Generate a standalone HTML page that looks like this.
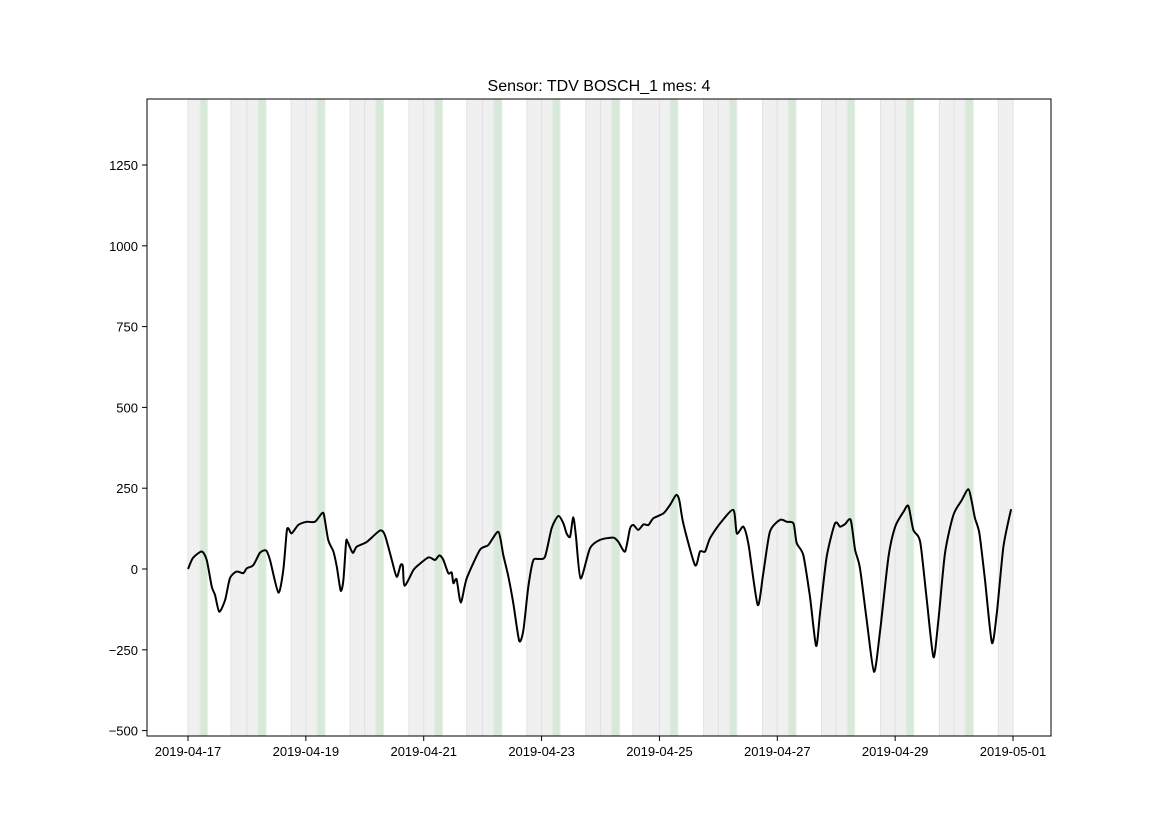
<!DOCTYPE html>
<html><head><meta charset="utf-8"><style>
html,body{margin:0;padding:0;background:#fff;}
svg text{font-family:"Liberation Sans","DejaVu Sans",sans-serif;}
</style></head><body>
<svg id="chart" width="1169" height="827" viewBox="0 0 1169 827" xmlns="http://www.w3.org/2000/svg">
<rect width="1169" height="827" fill="#fff"/>
<text x="599" y="91" text-anchor="middle" font-size="16" fill="#000">Sensor: TDV BOSCH_1 mes: 4</text>
<g id="bands"></g>
<g id="line"></g>
<rect x="147" y="99" width="904" height="637" fill="none" stroke="#000" stroke-width="1"/>
<g id="xaxis"></g>
<g id="yaxis"></g>
</svg>
<script>
const hours=[0,2,5.6,7.6,9.7,11,12.7,15.1,17.1,19.8,22.5,23.9,26.6,29.3,31.8,33.4,36.8,38.8,40.2,40.9,42.2,44.9,48.3,51.7,54.5,55.4,57.1,59.2,60.6,62.2,63.3,64.4,65,67.1,68.7,72.8,78.2,80.2,83,85,86.6,87.5,88.2,91.8,93.8,97.9,100.6,102.4,104,106,107.4,108.1,109.4,111.1,113.5,118.9,122.3,126.4,128.4,130.5,132.5,134.9,136.6,138.6,140.6,142.7,145.4,148.1,150.8,152.9,154.2,155.6,156.9,158,159.9,163.7,167.8,173.2,175.3,178,180,181.4,183.4,185.5,187.5,189.5,193.6,196.3,198.8,200.1,201.7,206.5,208.5,210.6,212.6,216.7,222.1,223.5,226.2,228.3,232,234.3,237,241.1,243.9,246.6,247.9,250.6,253.3,255.8,257.4,260.1,263.5,265.6,267.6,269.9,271.7,273.7,276.4,279.4,281.9,285.3,288,291.4,293.4,295.4,298.2,300.9,303.6,305.6,308.3,311.7,315.1,317.8,319.2,320.5,322.3,324.6,327.4,329.4,332.1,335.2];
const values=[0,34,54,28,-55,-80,-132,-96,-28,-8,-13,2,12,50,57,28,-73,-3,115,126,110,136,146,146,172,167,90,54,7,-67,-34,84,84,50,69,84,119,105,28,-24,12,9,-52,-3,12,36,28,42,28,-13,-11,-44,-32,-104,-29,59,74,115,43,-24,-106,-222,-189,-55,26,31,38,126,164,141,110,100,160,100,-29,64,90,97,84,54,125,136,121,138,136,157,172,198,229,213,141,12,54,54,95,141,183,110,131,74,-111,-13,115,152,146,141,80,43,-86,-238,-137,38,141,131,139,152,59,2,-158,-318,-189,38,131,177,195,121,84,-96,-273,-158,49,167,213,247,208,157,110,-34,-228,-137,69,185];
const bandStart=[0,4.9,17.5,24,28.5,42,48,52.5,66,72,76.5,90,96,100.5,113.5,120,124.5,138,144,148.5,162,168,172.5,181.2,192,196.3,210,216,220.5,234,240,244.5,258,264,268.5,282,288,292.5,306,312,316.5,330];
const bandEnd=[4.9,7.9,24,28.5,31.8,48,52.5,55.8,72,76.5,79.6,96,100.5,103.6,120,124.5,127.8,144,148.5,151.5,168,172.5,175.8,192,196.3,199.5,216,220.5,223.5,240,244.5,247.6,264,268.5,271.5,288,292.5,295.6,312,316.5,319.8,336];
const bandType=["g","n","g","g","n","g","g","n","g","g","n","g","g","n","g","g","n","g","g","n","g","g","n","g","g","n","g","g","n","g","g","n","g","g","n","g","g","n","g","g","n","g"];
const xTickDays=[0,2,4,6,8,10,12,14];
const xTickLabels=["2019-04-17","2019-04-19","2019-04-21","2019-04-23","2019-04-25","2019-04-27","2019-04-29","2019-05-01"];
const yTicks=[-500,-250,0,250,500,750,1000,1250];

const NS="http://www.w3.org/2000/svg";
function X(h){return 188+h*58.93/24;}
function Y(v){return 569-v*80.8/250;}
function mk(t,a,p){const e=document.createElementNS(NS,t);for(const k in a)e.setAttribute(k,a[k]);p.appendChild(e);return e;}

const bg=document.getElementById('bands');
for(let i=0;i<bandStart.length;i++){
  const x0=X(bandStart[i]),x1=X(bandEnd[i]);
  const g=bandType[i]==="g";
  const r=mk('rect',{x:x0,y:99,width:x1-x0,height:637,fill:g?'#f0f0f0':'#d9e9d9',stroke:g?'#e2e2e2':'#e3efe3','stroke-width':1},bg);
  
  
}
const lg=document.getElementById('line');
const px=hours.map(X), py=values.map(Y);
let d='M'+px[0].toFixed(1)+' '+py[0].toFixed(1);
const k=0.12;
for(let i=0;i<px.length-1;i++){
  const i0=Math.max(0,i-1), i2=Math.min(px.length-1,i+2);
  const c1x=px[i]+(px[i+1]-px[i0])*k, c1y=py[i]+(py[i+1]-py[i0])*k;
  const c2x=px[i+1]-(px[i2]-px[i])*k, c2y=py[i+1]-(py[i2]-py[i])*k;
  d+='C'+c1x.toFixed(1)+' '+c1y.toFixed(1)+' '+c2x.toFixed(1)+' '+c2y.toFixed(1)+' '+px[i+1].toFixed(1)+' '+py[i+1].toFixed(1);
}
const pl=mk('path',{d:d,fill:'none',stroke:'#000','stroke-width':2,'stroke-linejoin':'round'},lg);



const xa=document.getElementById('xaxis');
for(let i=0;i<xTickDays.length;i++){
  const x=X(xTickDays[i]*24);
  const t=mk('line',{x1:x,x2:x,y1:736,y2:741,stroke:'#000'},xa);
  
  
  const l=mk('text',{x:x,y:756,'text-anchor':'middle','font-size':13},xa);
  l.textContent=xTickLabels[i];
  
  
}
const ya=document.getElementById('yaxis');
for(let i=0;i<yTicks.length;i++){
  const y=Y(yTicks[i]);
  const t=mk('line',{x1:142,x2:147,y1:y,y2:y,stroke:'#000'},ya);
  
  
  const l=mk('text',{x:138,y:y+5,'text-anchor':'end','font-size':13},ya);
  l.textContent=String(yTicks[i]).replace('-','\u2212');
  
  
}
</script>
</body></html>
